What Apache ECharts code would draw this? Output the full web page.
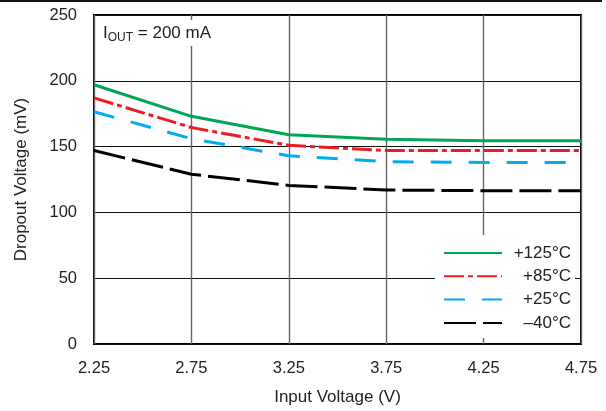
<!DOCTYPE html>
<html>
<head>
<meta charset="utf-8">
<script src="https://cdn.jsdelivr.net/npm/echarts@6/dist/echarts.min.js"></script>
<style>
html,body{margin:0;padding:0;background:#fff;}
#c{width:606px;height:411px;}
</style>
</head>
<body>
<div id="c"></div>
<script>
var inputVoltage = [2.25, 2.75, 3.25, 3.75, 4.25, 4.75];
var t125 = [197, 173, 159, 155.5, 154.5, 154.5];
var t85 = [187, 164.5, 151, 147, 147, 147];
var t25 = [176.5, 156, 143, 138.5, 138, 138];
var tm40 = [147, 129, 120.5, 117, 116.5, 116.5];
var seriesNames = ['+125°C', '+85°C', '+25°C', '\u201340°C'];

function pairs(ys) { return inputVoltage.map(function (x, i) { return [x, ys[i]]; }); }

var FONT = '"Liberation Sans", Arial, Helvetica, sans-serif';
var FS = 16.5;
var chart = echarts.init(document.getElementById('c'));
var mk = function (name, data, color, type) {
  return {
    name: name, type: 'line', data: pairs(data), symbol: 'none',
    lineStyle: { color: color, width: 3, type: type }, itemStyle: { color: color },
    z: 3
  };
};
chart.setOption({
  animation: false,
  backgroundColor: '#fff',
  textStyle: { fontFamily: FONT },
  grid: { left: 94, right: 25, top: 15, bottom: 67, show: true, borderColor: '#000', borderWidth: 2, backgroundColor: 'transparent' },
  xAxis: {
    type: 'value', min: 2.25, max: 4.75, interval: 0.5,
    name: 'Input Voltage (V)', nameLocation: 'middle', nameGap: 45,
    nameTextStyle: { fontSize: 17, color: '#222', fontFamily: FONT },
    axisLine: { show: false }, axisTick: { show: false },
    axisLabel: { fontSize: FS, color: '#222', margin: 16, fontFamily: FONT, formatter: function (v) { return v.toFixed(2); } },
    splitLine: { show: true, lineStyle: { color: '#666', width: 1.4 } }
  },
  yAxis: {
    type: 'value', min: 0, max: 250, interval: 50,
    name: 'Dropout Voltage (mV)', nameLocation: 'middle', nameGap: 64,
    nameTextStyle: { fontSize: 17, color: '#222', fontFamily: FONT },
    axisLine: { show: false }, axisTick: { show: false },
    axisLabel: { fontSize: FS, color: '#222', margin: 17, fontFamily: FONT },
    splitLine: { show: true, lineStyle: { color: '#111', width: 1 } }
  },
  legend: {
    orient: 'vertical', left: 435, top: 235,
    backgroundColor: '#fff', padding: [9, 4, 6, 8],
    itemWidth: 58, itemHeight: 14, itemGap: 5.3,
    itemStyle: { opacity: 0 },
    data: seriesNames,
    formatter: function (n) { return '{a|' + n + '}'; },
    textStyle: { rich: { a: { width: 64, lineHeight: 18, height: 18, align: 'right', fontSize: 17, color: '#222', fontFamily: FONT } } }
  },
  graphic: [
    { type: 'rect', shape: { x: 96, y: 20, width: 132, height: 26 }, style: { fill: '#fff' }, z: 10 },
    { type: 'text', x: 103, y: 33, z: 11, style: {
      text: '{i|I}{s|OUT}{i| = 200 mA}', verticalAlign: 'middle', align: 'left',
      rich: { i: { fontSize: 17, fill: '#222', fontFamily: FONT }, s: { fontSize: 12, fill: '#222', fontFamily: FONT, padding: [10, 0, 0, 0] } }
    } },
    { type: 'rect', shape: { x: 0, y: 0, width: 602, height: 2 }, style: { fill: '#111' }, z: 10 }
  ],
  series: [
    mk(seriesNames[0], t125, '#00a651', 'solid'),
    mk(seriesNames[1], t85, '#ed1c24', [20, 4, 5, 4]),
    mk(seriesNames[2], t25, '#00aeef', [21, 17]),
    mk(seriesNames[3], tm40, '#000', [32, 7])
  ]
});
</script>
</body>
</html>
